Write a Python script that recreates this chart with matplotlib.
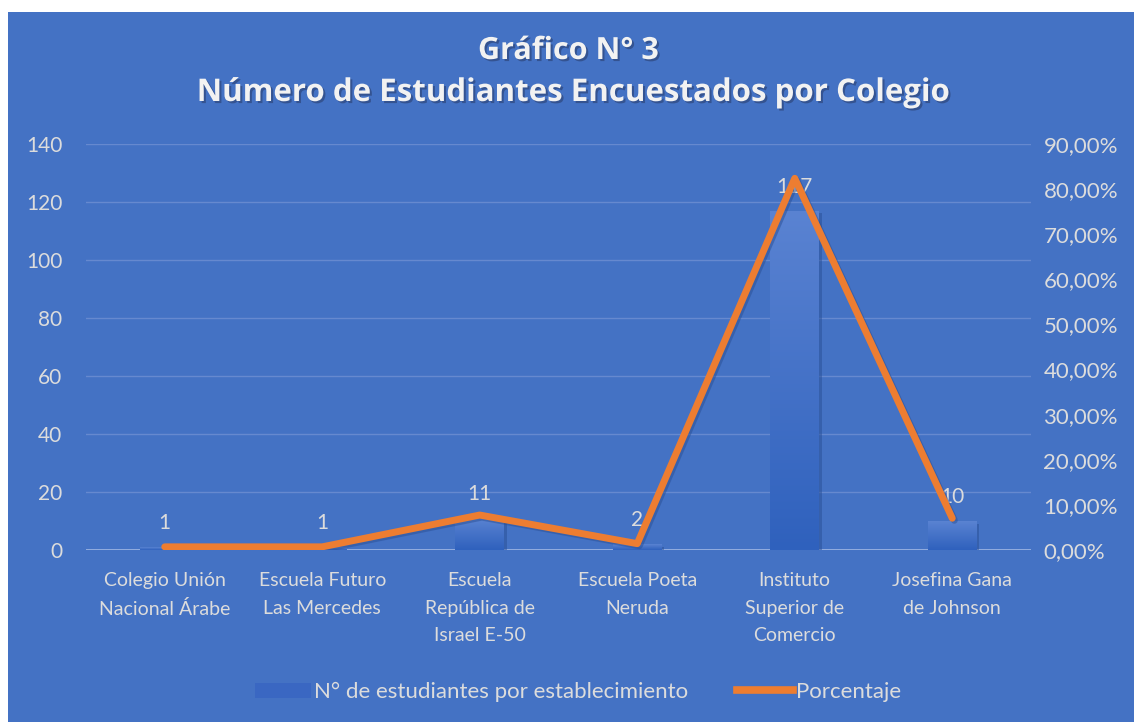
import numpy as np
import matplotlib
matplotlib.use('Agg')
import matplotlib.pyplot as plt
import matplotlib.patches as patches
import matplotlib.patheffects as pe
from matplotlib.lines import Line2D
from matplotlib.colors import LinearSegmentedColormap

plt.rcParams['font.family'] = ['Lato', 'DejaVu Sans']

colegios = ['Colegio Unión\nNacional Árabe', 'Escuela Futuro\nLas Mercedes',
            'Escuela\nRepública de\nIsrael E-50', 'Escuela Poeta\nNeruda',
            'Instituto\nSuperior de\nComercio', 'Josefina Gana\nde Johnson']
estudiantes = [1, 1, 11, 2, 117, 10]
porcentaje = [0.0070, 0.0070, 0.0775, 0.0141, 0.8239, 0.0704]

left_ticks = [0, 20, 40, 60, 80, 100, 120, 140]
right_ticks = [0.0, 0.1, 0.2, 0.3, 0.4, 0.5, 0.6, 0.7, 0.8, 0.9]

bg = '#4472C4'
txt = '#DCDCDC'
orange = '#ED7D31'

fig = plt.figure(figsize=(11.34, 7.22), dpi=100)
fig.patch.set_facecolor('white')
fig.add_artist(patches.Rectangle((8/1134, 0), 1 - 8/1134, 1 - 12/722,
                                 transform=fig.transFigure, facecolor=bg,
                                 edgecolor='none', zorder=-10))

ax = fig.add_axes([86/1134, 1 - 550/722, 945/1134, 406/722])
ax.set_facecolor('none')
x = np.arange(len(colegios))

# bars with a soft vertical gradient
bars = ax.bar(x, estudiantes, width=0.31, color='#3A67C2', zorder=2)
grad = np.linspace(0, 1, 256).reshape(-1, 1)
bcmap = LinearSegmentedColormap.from_list('b', ['#2F61BD', '#5A83D2'])
for b in bars:
    bx, by = b.get_x(), b.get_y()
    w, h = b.get_width(), b.get_height()
    im = ax.imshow(grad, extent=[bx, bx + w, by, by + h], origin='lower',
                   cmap=bcmap, aspect='auto', zorder=2.1)
    im.set_clip_path(b)
    b.set_path_effects([pe.SimplePatchShadow(offset=(2, -2), shadow_rgbFace='#2a4f95', alpha=0.5), pe.Normal()])

for xi, v in zip(x, estudiantes):
    ax.annotate(str(v), (xi, v), xytext=(0, 10), textcoords='offset points',
                ha='center', va='bottom', color=txt, fontsize=15, zorder=6)

ax.set_xlim(-0.5, len(colegios) - 0.5)
ax.set_ylim(0, 140)
ax.set_yticks(left_ticks)
ax.set_xticks(x)
ax.set_xticklabels(colegios, color=txt, fontsize=14, linespacing=1.75)
ax.tick_params(axis='x', length=0, pad=16)
ax.tick_params(axis='y', length=0, pad=17, labelcolor=txt, labelsize=15)
ax.grid(axis='y', color='#6689CF', lw=1, zorder=0)
ax.set_axisbelow(True)
for s in ax.spines.values():
    s.set_visible(False)
ax.axhline(0, color='#9FB6E4', lw=1.2, zorder=1)

ax2 = ax.twinx()
ax2.plot(x, porcentaje, color=orange, lw=5, solid_capstyle='round', zorder=5,
         path_effects=[pe.SimpleLineShadow(offset=(1.5, -1.5), shadow_color='#2a4f95', alpha=0.5), pe.Normal()])
ax2.set_ylim(0, 0.9)
ax2.set_yticks(right_ticks)
ax2.set_yticklabels([('%.2f%%' % (t * 100)).replace('.', ',') for t in right_ticks])
ax2.tick_params(axis='y', length=0, pad=9, labelcolor=txt, labelsize=16)
for s in ax2.spines.values():
    s.set_visible(False)

title_fx = [pe.SimplePatchShadow(offset=(1.5, -1.5), shadow_rgbFace='#2a3f70', alpha=0.6), pe.Normal()]
fig.text(0.501, 1 - 51/722, 'Gráfico N° 3', ha='center', va='center', color='#F2F2F2',
         fontsize=22, fontweight='bold', family=['Open Sans', 'DejaVu Sans'], path_effects=title_fx)
fig.text(0.506, 1 - 93/722, 'Número de Estudiantes Encuestados por Colegio', ha='center', va='center',
         color='#F2F2F2', fontsize=22.5, fontweight='bold', family=['Open Sans', 'DejaVu Sans'],
         path_effects=title_fx)

handles = [patches.Patch(facecolor='#3A67C2', edgecolor='none'),
           Line2D([0], [0], color=orange, lw=5.5)]
fig.legend(handles, ['N° de estudiantes por establecimiento', 'Porcentaje'],
           loc='center', bbox_to_anchor=(0.51, 1 - 692/722), ncol=2, frameon=False,
           fontsize=16, labelcolor=txt, handlelength=2.5, handletextpad=0.15,
           columnspacing=2.2)

fig.savefig('out.png', dpi=100, facecolor=fig.get_facecolor())
